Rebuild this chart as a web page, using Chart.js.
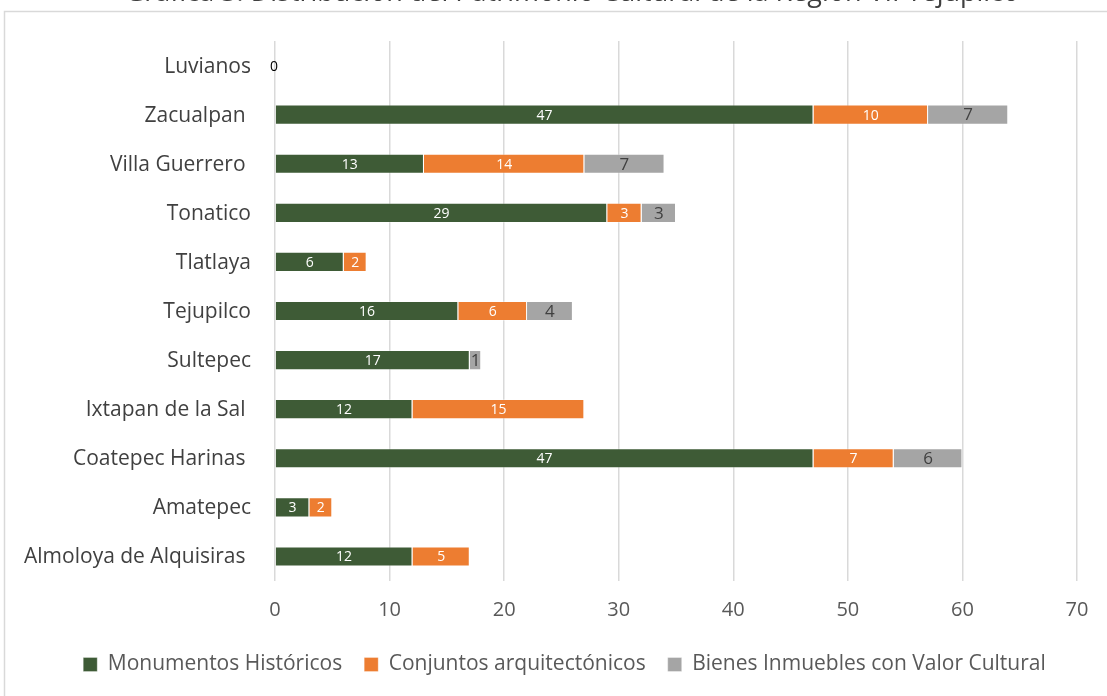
<!DOCTYPE html>
<html>
<head>
<meta charset="utf-8">
<script src="https://cdn.jsdelivr.net/npm/chart.js@4.4.1/dist/chart.umd.min.js"></script>
<style>
  html, body { margin: 0; padding: 0; background: #ffffff; overflow: hidden; }
  #wrap { width: 1107px; height: 696px; position: relative; }
</style>
</head>
<body>
<div id="wrap"><canvas id="c" width="1107" height="696"></canvas></div>
<script>
// Datos de la gráfica
const chartTitle = 'Gráfica 3. Distribución del Patrimonio Cultural de la Región VII Tejupilco';
const municipios = ['Luvianos', 'Zacualpan ', 'Villa Guerrero ', 'Tonatico', 'Tlatlaya', 'Tejupilco',
  'Sultepec', 'Ixtapan de la Sal ', 'Coatepec Harinas ', 'Amatepec', 'Almoloya de Alquisiras '];
const monumentosHistoricos     = [0, 47, 13, 29, 6, 16, 17, 12, 47, 3, 12];
const conjuntosArquitectonicos = [null, 10, 14, 3, 2, 6, null, 15, 7, 2, 5];
const bienesInmuebles          = [null, 7, 7, 3, null, 4, 1, null, 6, null, null];
const xTickValues = [0, 10, 20, 30, 40, 50, 60, 70];

const FONT = '"Open Sans", "Noto Sans", sans-serif';

// Marco gris alrededor del gráfico
const framePlugin = {
  id: 'frame',
  beforeDraw(chart) {
    const ctx = chart.ctx;
    ctx.save();
    ctx.strokeStyle = '#d9d9d9';
    ctx.lineWidth = 1.5;
    ctx.strokeRect(4.5, 11.5, chart.width + 20, chart.height + 20);
    ctx.restore();
  }
};

// Título, recortado por el borde superior del lienzo
const titlePlugin = {
  id: 'topTitle',
  afterDraw(chart) {
    const ctx = chart.ctx;
    ctx.save();
    let size = 20;
    ctx.font = size + 'px ' + FONT;
    const w = ctx.measureText(chartTitle).width;
    size = size * 895 / w;
    ctx.font = size + 'px ' + FONT;
    ctx.fillStyle = '#404040';
    ctx.textAlign = 'center';
    ctx.textBaseline = 'alphabetic';
    ctx.fillText(chartTitle, 572, 0.8);
    ctx.restore();
  }
};

// Leyenda desplazada hacia el centro del marco
const legendShiftPlugin = {
  id: 'legendShift',
  afterLayout(chart) {
    const lg = chart.legend;
    if (lg) { lg.left += 26; lg.right += 26; }
  }
};

// Etiquetas de valor centradas en cada segmento
const valueLabelPlugin = {
  id: 'valueLabels',
  afterDatasetsDraw(chart) {
    const ctx = chart.ctx;
    ctx.save();
    ctx.textAlign = 'center';
    ctx.textBaseline = 'middle';
    chart.data.datasets.forEach((ds, di) => {
      const meta = chart.getDatasetMeta(di);
      meta.data.forEach((bar, i) => {
        const v = ds.data[i];
        if (v === null || v === undefined) return;
        const cx = (bar.x + bar.base) / 2;
        const st = ds.labelStyle;
        ctx.font = st.size + 'px ' + FONT;
        ctx.fillStyle = (v === 0) ? '#000000' : st.color;
        ctx.fillText(String(v), v === 0 ? cx - 1 : cx, bar.y + 1);
      });
    });
    ctx.restore();
  }
};

new Chart(document.getElementById('c'), {
  type: 'bar',
  data: {
    labels: municipios,
    datasets: [
      { label: 'Monumentos Históricos', data: monumentosHistoricos,
        backgroundColor: '#3e5b36', borderColor: 'rgba(255,255,255,0.3)', borderWidth: 1,
        labelStyle: { color: '#ffffff', size: 14 } },
      { label: 'Conjuntos arquitectónicos', data: conjuntosArquitectonicos,
        backgroundColor: '#ed7d31', borderColor: 'rgba(255,255,255,0.3)', borderWidth: 1,
        labelStyle: { color: '#ffffff', size: 14 } },
      { label: 'Bienes Inmuebles con Valor Cultural', data: bienesInmuebles,
        backgroundColor: '#a5a5a5', borderColor: 'rgba(255,255,255,0.35)', borderWidth: 1,
        labelStyle: { color: '#404040', size: 17 } }
    ]
  },
  options: {
    indexAxis: 'y',
    responsive: false,
    animation: false,
    devicePixelRatio: 1,
    layout: { padding: { top: 41, right: 30, bottom: 11, left: 0 } },
    datasets: { bar: { categoryPercentage: 1.0, barPercentage: 0.41 } },
    scales: {
      x: {
        stacked: true,
        min: 0, max: 70,
        afterBuildTicks(scale) { scale.ticks = xTickValues.map(v => ({ value: v })); },
        border: { display: false },
        grid: { color: '#d9d9d9', lineWidth: 1.5, drawTicks: false },
        ticks: { color: '#595959', font: { family: FONT, size: 20 }, padding: 17 },
        afterFit(scale) { scale.height = 51; }
      },
      y: {
        stacked: true,
        border: { display: false },
        grid: { display: false, drawTicks: false },
        ticks: { color: '#404040', font: { family: FONT, size: 21 }, padding: 24, autoSkip: false, labelOffset: 1 },
        afterFit(scale) { scale.width = 275; }
      }
    },
    plugins: {
      legend: {
        position: 'bottom',
        labels: {
          color: '#595959', font: { family: FONT, size: 21 },
          boxWidth: 14, boxHeight: 14, padding: 22
        }
      },
      tooltip: { enabled: false },
      title: { display: false }
    }
  },
  plugins: [framePlugin, titlePlugin, legendShiftPlugin, valueLabelPlugin]
});
</script>
</body>
</html>
